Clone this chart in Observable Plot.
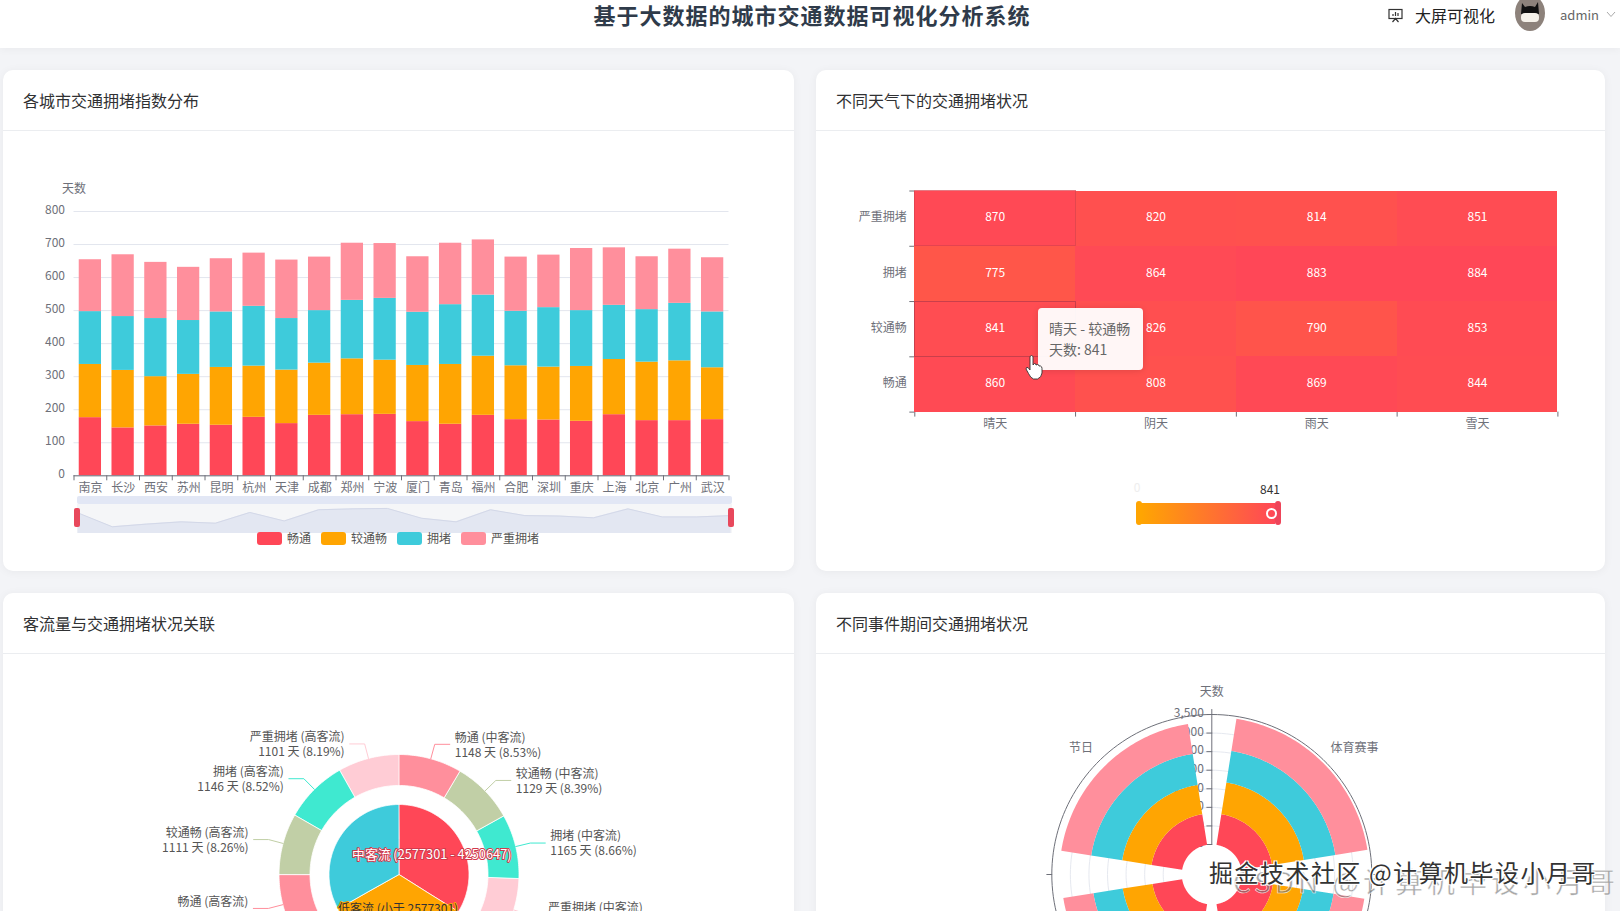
<!DOCTYPE html>
<html lang="zh">
<head>
<meta charset="utf-8">
<script src="https://cdn.jsdelivr.net/npm/d3@7"></script>
<script src="https://cdn.jsdelivr.net/npm/@observablehq/plot@0.6"></script>
<style>
html,body{margin:0;padding:0;width:1620px;height:911px;overflow:hidden;background:#f3f4f7;font-family:"Noto Sans CJK SC","Noto Sans",sans-serif;position:relative}
.abs{position:absolute}
#hdr{left:0;top:0;width:1620px;height:48px;background:#fff;box-shadow:0 2px 8px rgba(0,0,0,.04)}
#ttl{left:2px;top:-2px;width:1620px;text-align:center;font-size:22px;font-weight:700;letter-spacing:1px;line-height:33px;color:#2f3b4a;}
.card{position:absolute;background:#fff;border-radius:10px;box-shadow:0 1px 10px rgba(0,0,0,.05);overflow:hidden}
.chead{position:absolute;left:0;right:0;top:0;height:60px;border-bottom:1px solid #ebedf0;box-sizing:content-box}
.chead span{position:absolute;left:20px;top:18px;font-size:16px;line-height:24px;color:#303133}
#legend{left:257px;top:531px;display:flex;gap:10px;font-size:12px;line-height:14px;color:#555}
#legend div{display:flex;gap:5px;align-items:center}
#legend i{display:block;width:25px;height:13px;border-radius:3px}
#tip{left:1038px;top:308px;width:105px;height:62px;box-sizing:border-box;padding:10px 11px;background:rgba(255,255,255,.95);border-radius:4px;font-size:14px;line-height:21px;color:#666;box-shadow:0 1px 6px rgba(0,0,0,.12);white-space:nowrap}
.wm{white-space:nowrap;line-height:1}
</style>
</head>
<body>
<script>
// ---------- data ----------
const cities = ["南京","长沙","西安","苏州","昆明","杭州","天津","成都","郑州","宁波","厦门","青岛","福州","合肥","深圳","重庆","上海","北京","广州","武汉"];
const statuses = ["畅通","较通畅","拥堵","严重拥堵"];
const statusColors = ["#ff4757","#ffa502","#3ecbdb","#ff8f9c"];
const smoothDays =   [176,145,151,156,153,177,158,183,185,186,164,156,183,170,169,165,185,167,167,170];
const moderateDays = [161,174,149,151,175,155,162,158,169,164,170,181,179,163,160,166,167,177,181,157];
const congestedDays =[160,163,176,163,168,181,156,159,177,187,161,181,185,165,180,169,164,159,174,169];
const severeDays =   [157,187,170,161,161,161,177,162,173,166,168,186,167,164,159,188,174,160,164,164];
const cityTicks = [0,100,200,300,400,500,600,700,800];

const weathers = ["晴天","阴天","雨天","雪天"];
const heatRows = ["严重拥堵","拥堵","较通畅","畅通"];
const heatSevere =   [870,820,814,851];
const heatCongested =[775,864,883,884];
const heatModerate = [841,826,790,853];
const heatSmooth =   [860,808,869,844];

const flowGroups = ["中客流","低客流","高客流"];
const flowLabels = {"中客流":"中客流 (2577301 - 4250647)","低客流":"低客流 (小于 2577301)"};
const midFlowDays =  [1148,1129,1165,1125];
const lowFlowDays =  [1100,1110,1113,1105];
const highFlowDays = [1098,1111,1146,1101];
const ringColors = ["#ff8f9c","#c1cfa6","#3fe9d0","#ffccd5"];

const events = ["体育赛事","事件乙","事件丙","节日"];
const eventShown = ["体育赛事","节日"];
const eventSmooth =   [835,860,810,835];
const eventModerate = [865,820,810,800];
const eventCongested =[860,830,800,845];
const eventSevere =   [875,840,820,815];
const eventTicks = [0,500,1000,1500,2000,2500,3000,3500];

// ---------- page furniture ----------
const FONT = '"Noto Sans CJK SC","Noto Sans",sans-serif';
document.body.insertAdjacentHTML("beforeend", `
<div class="abs" id="hdr"></div>
<div class="abs" id="ttl">基于大数据的城市交通数据可视化分析系统</div>
<svg class="abs" style="left:1388px;top:8px" width="15" height="15" viewBox="0 0 15 15" fill="none" stroke="#333" stroke-width="1.2"><rect x="1" y="1.5" width="13" height="9"/><path d="M4.5 14 L7.5 10.5 L10.5 14 M5 8V6 M7.5 8V4 M10 8V5"/></svg>
<div class="abs" style="left:1415px;top:3px;font-size:16px;line-height:24px;color:#222">大屏可视化</div>
<svg class="abs" style="left:1512px;top:-3px" width="36" height="36" viewBox="0 0 36 36"><ellipse cx="18" cy="16" rx="15" ry="18" fill="#8d827b"/><path d="M10 6 L13 10 Q18 8 23 10 L26 5 L27 17 H9 Z" fill="#111"/><rect x="9" y="16" width="18" height="9" rx="4" fill="#f6f2ea"/></svg>
<div class="abs" style="left:1560px;top:4px;font-size:13px;line-height:21px;color:#666">admin</div>
<svg class="abs" style="left:1606px;top:11px" width="10" height="7" viewBox="0 0 10 7" fill="none" stroke="#aaa"><path d="M1 1 L5 5.5 L9 1"/></svg>
<div class="card" style="left:3px;top:70px;width:791px;height:501px"><div class="chead"><span>各城市交通拥堵指数分布</span></div></div>
<div class="card" style="left:816px;top:70px;width:789px;height:501px"><div class="chead"><span>不同天气下的交通拥堵状况</span></div></div>
<div class="card" style="left:3px;top:593px;width:791px;height:400px"><div class="chead"><span>客流量与交通拥堵状况关联</span></div></div>
<div class="card" style="left:816px;top:593px;width:789px;height:400px"><div class="chead"><span>不同事件期间交通拥堵状况</span></div></div>
`);
function place(svg, left, top){
  svg.style.position = "absolute"; svg.style.left = left+"px"; svg.style.top = top+"px";
  svg.style.maxWidth = "none"; svg.style.background = "transparent";
  document.body.appendChild(svg); return svg;
}
const baseStyle = {fontFamily:FONT, fontSize:"12px"};
const AXIS = "#6e7079";

// ---------- chart 1: stacked bars ----------
const seriesByStatus = [smoothDays, moderateDays, congestedDays, severeDays];
const stackRows = statuses.flatMap((s,k)=>cities.map((c,i)=>({city:c,status:s,days:seriesByStatus[k][i]})));
const W1 = 655, step1 = W1/cities.length;
place(Plot.plot({
  width:794, height:330, marginLeft:73.5, marginRight:794-73.5-W1, marginTop:41, marginBottom:24.7,
  style:baseStyle,
  x:{domain:cities, paddingInner:.32, paddingOuter:.16, round:false, label:null},
  y:{domain:[0,800], label:null},
  color:{domain:statuses, range:statusColors},
  marks:[
    Plot.gridY(cityTicks,{stroke:"#e3e6ee",strokeOpacity:1}),
    Plot.barY(stackRows,{x:"city",y:"days",fill:"status",order:statuses}),
    Plot.ruleY([0],{stroke:AXIS}),
    Plot.axisY({ticks:cityTicks,tickSize:0,tickPadding:9,label:null,color:AXIS,dy:-1.5}),
    Plot.axisX({tickSize:0,tickPadding:8,label:null,color:AXIS}),
    Plot.axisX({tickSize:5,fill:"none",label:null,stroke:AXIS,dx:step1/2}),
    Plot.axisX({ticks:[cities[0]],tickSize:5,fill:"none",label:null,stroke:AXIS,dx:-step1/2}),
    Plot.text(["天数"],{frameAnchor:"top-left",dy:-27,text:d=>d,fill:AXIS,fontSize:12,textAnchor:"middle"})
  ]
}),0,170);

// data-zoom overview of the first series
document.body.insertAdjacentHTML("beforeend",`
<div class="abs" style="left:77px;top:496px;width:655px;height:8px;background:#e2e7f5;border-radius:2px"></div>
<div class="abs" style="left:77px;top:504px;width:655px;height:29px;background:#f5f6f8"></div>`);
place(Plot.plot({
  width:794, height:30, margin:0, marginLeft:77.5, marginRight:794-730.6,
  style:baseStyle,
  x:{type:"linear",domain:[0,cities.length-1],axis:null},
  y:{domain:[130,197],axis:null},
  marks:[
    Plot.areaY(smoothDays,{x:(d,i)=>i,y1:130,y2:d=>d,fill:"#e3e7f2"}),
    Plot.lineY(smoothDays,{x:(d,i)=>i,y:d=>d,stroke:"#d3d8e8",strokeWidth:1})
  ]
}),0,503);
document.body.insertAdjacentHTML("beforeend",`
<div class="abs" style="left:74px;top:508px;width:6px;height:19px;background:#e8485c;border-radius:2px"></div>
<div class="abs" style="left:728px;top:508px;width:6px;height:19px;background:#e8485c;border-radius:2px"></div>
<div class="abs" id="legend">${statuses.map((s,i)=>`<div><i style="background:${statusColors[i]}"></i><span>${s}</span></div>`).join("")}</div>`);

// ---------- chart 2: heatmap ----------
const heatSeries = [heatSevere,heatCongested,heatModerate,heatSmooth];
const heatCells = heatRows.flatMap((r,j)=>weathers.map((w,i)=>({weather:w,level:r,days:heatSeries[j][i]})));
const heatHi = heatCells.filter(d=>d.weather==="晴天"&&d.level==="较通畅");
const heatEdge = heatCells.filter(d=>d.weather==="晴天"&&d.level==="严重拥堵");
const W2 = 643.1, H2 = 221.1;
const heat = place(Plot.plot({
  width:780, height:270, marginLeft:98.3, marginRight:780-98.3-W2, marginTop:20.5, marginBottom:270-20.5-H2,
  style:baseStyle,
  x:{domain:weathers,padding:0,round:false,label:null},
  y:{domain:heatRows,padding:0,round:false,label:null},
  color:{type:"linear",domain:[200,884],range:["#ffa502","#ff4757"]},
  marks:[
    Plot.axisY({tickSize:0,tickPadding:8,label:null,color:AXIS,dy:-1}),
    Plot.axisY({tickSize:5,fill:"none",label:null,stroke:AXIS,dy:H2/8}),
    Plot.axisY({ticks:[heatRows[0]],tickSize:5,fill:"none",label:null,stroke:AXIS,dy:-H2/8}),
    Plot.axisX({tickSize:0,tickPadding:7,label:null,color:AXIS}),
    Plot.axisX({tickSize:5,fill:"none",label:null,stroke:AXIS,dx:W2/8}),
    Plot.axisX({ticks:[weathers[0]],tickSize:5,fill:"none",label:null,stroke:AXIS,dx:-W2/8}),
    Plot.cell(heatCells,{x:"weather",y:"level",fill:"days",shapeRendering:"crispEdges"}),
    Plot.cell(heatEdge,{x:"weather",y:"level",fill:"none",stroke:"#d8414e",strokeWidth:.7,shapeRendering:"crispEdges"}),
    Plot.cell(heatHi,{x:"weather",y:"level",fill:"days",stroke:"#c93f4b",strokeWidth:1,ariaLabel:"hover-cell",shapeRendering:"crispEdges"}),
    Plot.text(heatCells,{x:"weather",y:"level",text:"days",fill:"#fff",fontSize:12,dy:-1})
  ]
}),816,170);
d3.select(heat).selectAll('[aria-label="hover-cell"]').style("filter","drop-shadow(0 1px 5px rgba(0,0,0,.6))");

document.body.insertAdjacentHTML("beforeend",`
<div class="abs" id="tip">晴天 - 较通畅<br>天数: 841</div>
<svg class="abs" style="left:1025px;top:354px" width="18" height="26" viewBox="0 0 18 26"><path d="M5 2.5 Q6.5 .5 8 2.5 V11 L9.5 9.5 Q11 9.5 11 11 L12.5 10.5 Q14 10.5 14 12 L15.5 12 Q17 12.5 17 14.5 V19 Q16.5 23.5 12.5 25 H8.5 Q5.5 24 3.5 19.5 L1 15 Q1 13 3 13.5 L5 16 Z" fill="#fff" stroke="#333" stroke-width=".9"/></svg>
<div class="abs" style="left:1140.6px;top:503px;width:134.4px;height:20.6px;background:linear-gradient(90deg,#ffa502,#ff4757)"></div>
<div class="abs" style="left:1135.5px;top:501px;width:6px;height:24px;background:#ffa502;border-radius:3px"></div>
<div class="abs" style="left:1275px;top:501px;width:6px;height:24px;background:#ee4459;border-radius:3px"></div>
<div class="abs" style="left:1266px;top:508px;width:7px;height:7px;border:2px solid #fff;border-radius:50%"></div>
<div class="abs" style="left:1130px;top:480px;width:14px;text-align:center;font-size:12px;line-height:14px;color:#eee">0</div>
<div class="abs" style="left:1258px;top:482px;width:24px;text-align:center;font-size:12px;line-height:14px;color:#333">841</div>`);

// ---------- shared polar helpers (north-polar azimuthal projection: one degree of colatitude = 2px) ----------
const polarProjection = (cx,cy)=>d3.geoAzimuthalEquidistant().rotate([0,-90]).scale(360/Math.PI).translate([cx,cy]);
const ll = (r,deg)=>[180-deg,90-r/2];
function sector(r0,r1,a0,a1){
  const n=Math.max(2,Math.ceil(a1-a0)), ring=[];
  for(let i=0;i<=n;i++) ring.push(ll(r1,a0+(a1-a0)*i/n));
  for(let i=n;i>=0;i--) ring.push(ll(r0,a0+(a1-a0)*i/n));
  ring.push(ring[0]);
  return {type:"Polygon",coordinates:[ring]};
}
const circleLine = r=>({type:"LineString",coordinates:d3.range(0,361,2).map(a=>ll(r,a))});

// ---------- chart 3: nested pie ----------
const flowSeries=[midFlowDays,lowFlowDays,highFlowDays];
const total=d3.sum(flowSeries.flat());
let acc=0;
const ring=[], inner=[];
flowGroups.forEach((g,gi)=>{
  const a0=acc/total*360;
  flowSeries[gi].forEach((v,k)=>{
    const s=acc/total*360; acc+=v; const e=acc/total*360;
    ring.push({group:g,status:statuses[k],days:v,a0:s,a1:e,mid:(s+e)/2,pct:(v/total*100).toFixed(2)});
  });
  const a1=acc/total*360;
  inner.push({group:g,a0,a1,mid:(a0+a1)/2});
});
const pieCx=395.5, pieCy=214, pieProj=polarProjection(pieCx,pieCy);
const leader=d=>{
  const [x,y]=pieProj(ll(135,d.mid));
  const end=pieProj.invert([x+(d.mid<180?15:-15),y]);
  return {type:"LineString",coordinates:[ll(120,d.mid),ll(135,d.mid),end]};
};
// the two lowest labels are cut by the window: only their first line is in view
const ringText=d=>(d.mid>100&&d.mid<260)?`${d.status} (${d.group})\n`:`${d.status} (${d.group})\n${d.days} 天 (${d.pct}%)`;
const visibleRing=ring.filter(d=>d.mid<130||d.mid>250);
place(Plot.plot({
  width:790,height:251,margin:0,projection:pieProj,style:baseStyle,
  color:{domain:[...flowGroups,...statuses],range:[statusColors[0],statusColors[1],statusColors[2],...ringColors]},
  marks:[
    Plot.geo(ring,{geometry:d=>sector(89,120,d.a0,d.a1),fill:"status",stroke:"#fff",strokeWidth:.8}),
    Plot.geo(inner,{geometry:d=>sector(.02,70,d.a0,d.a1),fill:"group",stroke:"#fff",strokeWidth:.8}),
    Plot.geo(visibleRing,{geometry:leader,fill:"none",stroke:"status",strokeWidth:1}),
    Plot.text(visibleRing.filter(d=>d.mid<180),{x:d=>ll(135,d.mid)[0],y:d=>ll(135,d.mid)[1],text:ringText,dx:20,textAnchor:"start",fill:"#555",fontSize:12,lineHeight:1.25}),
    Plot.text(visibleRing.filter(d=>d.mid>=180),{x:d=>ll(135,d.mid)[0],y:d=>ll(135,d.mid)[1],text:ringText,dx:-20,textAnchor:"end",fill:"#555",fontSize:12,lineHeight:1.25}),
    Plot.text(inner.filter(d=>d.group==="中客流"),{x:d=>ll(37.5,d.mid)[0],y:d=>ll(37.5,d.mid)[1],text:d=>flowLabels[d.group],fill:"#fff",stroke:"#d23a4c",strokeWidth:2,fontSize:12.8,dy:-1}),
    Plot.text(inner.filter(d=>d.group==="低客流"),{x:d=>ll(35,d.mid)[0],y:d=>ll(35,d.mid)[1],text:d=>flowLabels[d.group],fill:"#333",stroke:"#ffa502",strokeWidth:2,fontSize:12})
  ]
}),3,660);

// ---------- chart 4: polar stacked bars ----------
const rScale=d3.scaleLinear().domain([0,3500]).range([30,160]);
const eventSeries=[eventSmooth,eventModerate,eventCongested,eventSevere];
const polarBars=events.flatMap((ev,i)=>{
  let y=0;
  return statuses.map((s,k)=>{const v=eventSeries[k][i];const o={event:ev,status:s,y0:y,y1:y+v,mid:45+90*i};y+=v;return o;});
});
const polCx=395.3, polCy=214, polProj=polarProjection(polCx,polCy);
const radialTick=v=>{
  const [x,y]=polProj(ll(rScale(v),0));
  return {type:"LineString",coordinates:[ll(rScale(v),0),polProj.invert([x-5,y])]};
};
const eventLabels=eventShown.map(e=>({event:e,a:45+90*events.indexOf(e)}));
place(Plot.plot({
  width:790,height:251,margin:0,projection:polProj,style:baseStyle,
  color:{domain:statuses,range:statusColors},
  marks:[
    Plot.geo(eventTicks.slice(1,-1),{geometry:v=>circleLine(rScale(v)),fill:"none",stroke:"#e6e9f0"}),
    Plot.geo([3500],{geometry:v=>circleLine(rScale(v)),fill:"none",stroke:AXIS}),
    Plot.geo(eventTicks,{geometry:radialTick,fill:"none",stroke:AXIS}),
    Plot.geo([0,90,180,270],{geometry:a=>({type:"LineString",coordinates:[ll(160,a),ll(165,a)]}),fill:"none",stroke:AXIS}),
    Plot.geo([0],{geometry:()=>({type:"LineString",coordinates:[ll(30,0),ll(rScale(3500),0)]}),fill:"none",stroke:AXIS}),
    Plot.text(eventTicks,{x:v=>ll(rScale(v),0)[0],y:v=>ll(rScale(v),0)[1],text:d3.format(","),dx:-8,dy:-1,textAnchor:"end",fill:AXIS,fontSize:12}),
    Plot.geo(polarBars,{geometry:d=>sector(rScale(d.y0),rScale(d.y1),d.mid-36,d.mid+36),fill:"status"}),
    Plot.text(["天数"],{x:()=>ll(182,0)[0],y:()=>ll(182,0)[1],text:d=>d,fill:AXIS,fontSize:12}),
    Plot.text(eventLabels.filter(d=>d.a<180),{x:d=>ll(168,d.a)[0],y:d=>ll(168,d.a)[1],text:"event",dy:-8,textAnchor:"start",fill:AXIS,fontSize:12}),
    Plot.text(eventLabels.filter(d=>d.a>=180),{x:d=>ll(168,d.a)[0],y:d=>ll(168,d.a)[1],text:"event",dy:-8,textAnchor:"end",fill:AXIS,fontSize:12})
  ]
}),816,660);

// ---------- video watermarks ----------
document.body.insertAdjacentHTML("beforeend",`
<div class="abs wm" style="left:1233px;top:867px;font-size:28px;letter-spacing:4px;color:rgba(110,110,110,.6);-webkit-text-stroke:.6px rgba(255,255,255,.8)">CSDN @计算机毕设小月哥</div>
<div class="abs wm" style="left:1209px;top:860px;font-size:24px;letter-spacing:1.5px;color:#333;text-shadow:-1px -1px 0 #fff,1px 1px 0 #fff,-1px 1px 0 #fff,1px -1px 0 #fff">掘金技术社区 @计算机毕设小月哥</div>`);
</script>
</body>
</html>
